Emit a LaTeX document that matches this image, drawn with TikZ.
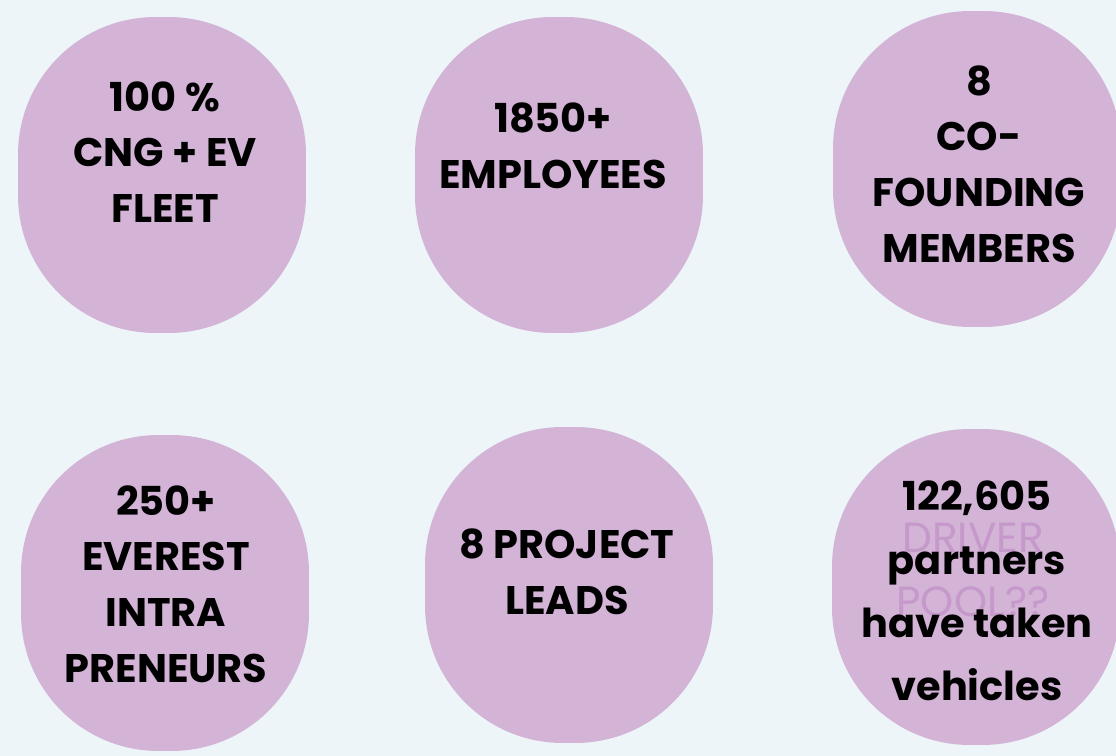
\documentclass[tikz,border=0pt]{standalone}
\usepackage{fontspec}
\setmainfont{Poppins}
\usepackage{xcolor}
\usepackage{tikz}
\usetikzlibrary{positioning}

\definecolor{bgblue}{HTML}{EDF5F8}
\definecolor{blobpink}{HTML}{D3B3D6}
\definecolor{ghostpink}{HTML}{C599CA}

\begin{document}
\begin{tikzpicture}[x=0.02cm, y=-0.02cm]
\tikzstyle{every node} = [inner sep=0pt, align=center]
\tikzstyle{blob} = [rectangle, rounded corners=2.75cm, fill=blobpink, draw=none, minimum width=5.76cm, minimum height=6.32cm]
\tikzstyle{stat} = [font=\fontsize{22.7}{31.7}\selectfont\bfseries]
\tikzstyle{ghost} = [font=\fontsize{24}{36.4}\selectfont, text=ghostpink]
\fill[bgblue] (0,0) rectangle (1116,756);
\useasboundingbox (0,0) rectangle (1116,756);
% blobs
\node[blob] (fleet) at (162,175) {};
\node[blob] (staff) at (559,175) {};
\node[blob] (founders) at (977,169) {};
\node[blob] (intra) at (165,593) {};
\node[blob] (leads) at (569,585) {};
\node[blob] (drivers) at (976,587) {};
% texts
\node[stat] (fleettext) at (165,152) {100 \%\\CNG + EV\\FLEET};
\node[stat] (stafftext) at (553,146) {1850+\\EMPLOYEES};
\node[stat] (foundtext) at (979,164) {8\\CO-\\FOUNDING\\MEMBERS};
\node[stat] (intratext) at (166,584) {250+\\EVEREST\\INTRA\\PRENEURS};
\node[stat] (leadtext) at (567,572) {8 PROJECT\\LEADS};
\node[ghost] (pooltext) at (973,570) {DRIVER\\POOL??};
\node[stat, font=\fontsize{22.7}{36}\selectfont\bfseries] (drivertext) at (977,591) {122,605\\partners\\have taken\\vehicles};
\end{tikzpicture}
\end{document}
